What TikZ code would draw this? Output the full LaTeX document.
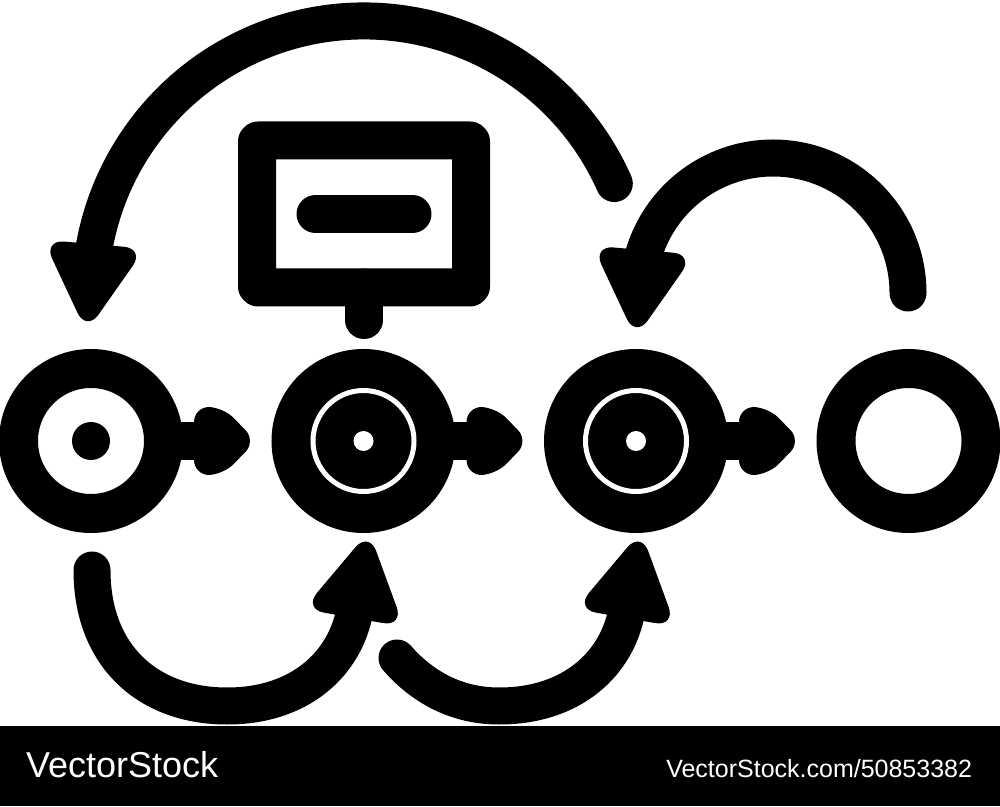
\documentclass[tikz,border=0pt]{standalone}
\usepackage{fontspec}
\usepackage{tikz}
\usetikzlibrary{positioning,calc}
\newfontfamily\wmfont{Liberation Sans}

\begin{document}
\begin{tikzpicture}[
    x=1pt, y=1pt,
    stage/.style={circle, draw=black, line width=39pt, minimum size=145pt,
      inner sep=0pt, outer sep=0pt},
    panel/.style={rectangle, draw=black, line width=38pt, minimum width=214pt,
      minimum height=147pt, inner sep=0pt, outer sep=0pt, rounded corners=1pt,
      line join=round},
    flow/.style={line width=37pt, line cap=round},
    link/.style={line width=38pt},
    wm/.style={text=white, inner sep=0pt, outer sep=0pt},
    tiphead/.pic={\fill[rounded corners=21pt] (-8,51) -- (80,0) -- (-8,-51) -- cycle;},
    nubhead/.pic={\fill[rounded corners=15pt] (-1,34) -- (28,34) -- (61,0)
      -- (28,-34) -- (-1,-34) -- cycle;},
  ]
    \useasboundingbox (0,0) rectangle (1000,806);

    % Stages
    \node[stage] (s1) at (91,365) {};
    \node[stage, fill=black, right=127.5pt of s1] (s2) {};
    \node[stage, fill=black, right=127.5pt of s2] (s3) {};
    \node[stage, right=127.5pt of s3] (s4) {};

    \fill (s1) circle[radius=19];
    \foreach \s in {s2,s3} {
      \draw[white, line width=5pt] (\s) circle[radius=50.5];
      \fill[white] (\s) circle[radius=10];
    }

    % Links between stages
    \foreach \s in {s1,s2,s3} {
      \draw[link] (\s.east) -- ++(38,0);
      \pic at ([xshift=31.5pt]\s.east) {nubhead};
    }

    % Board above
    \node[panel] (board) at (364,592) {};
    \draw[link, line cap=round] ([xshift=-48.5pt]board.center) -- ([xshift=48.5pt]board.center);
    \draw[link, line cap=round] (board.south) -- ++(0,-32.5);

    % Loops above
    \draw[flow] (364,511) ++(24:274) arc[start angle=24, end angle=171, radius=274]
      coordinate (bigend);
    \pic[rotate=265] at (bigend) {tiphead};
    \draw[flow] (773,513) ++(0:135) arc[start angle=0, end angle=165, radius=135]
      coordinate (smallend);
    \pic[rotate=265] at (smallend) {tiphead};

    % Loops below
    \draw[flow] (92,236) .. controls (92,150) and (148,100) .. (227,100)
      .. controls (300,100) and (345,142) .. (355,196) coordinate (lowend1);
    \pic[rotate=80] at (lowend1) {tiphead};
    \draw[flow] (397,148) .. controls (425,116) and (460,100) .. (499,100)
      .. controls (572,100) and (617,142) .. (627,196) coordinate (lowend2);
    \pic[rotate=80] at (lowend2) {tiphead};

    % Footer
    \fill[black] (0,0) rectangle (1000,80);
    \node[wm, anchor=base west, font=\wmfont\fontsize{36}{40}\selectfont] (brand) at (26,29) {VectorStock};
    \node[wm, anchor=base east, font=\wmfont\fontsize{25}{30}\selectfont] (ref) at (972,29) {VectorStock.com/50853382};
  \end{tikzpicture}
\end{document}
